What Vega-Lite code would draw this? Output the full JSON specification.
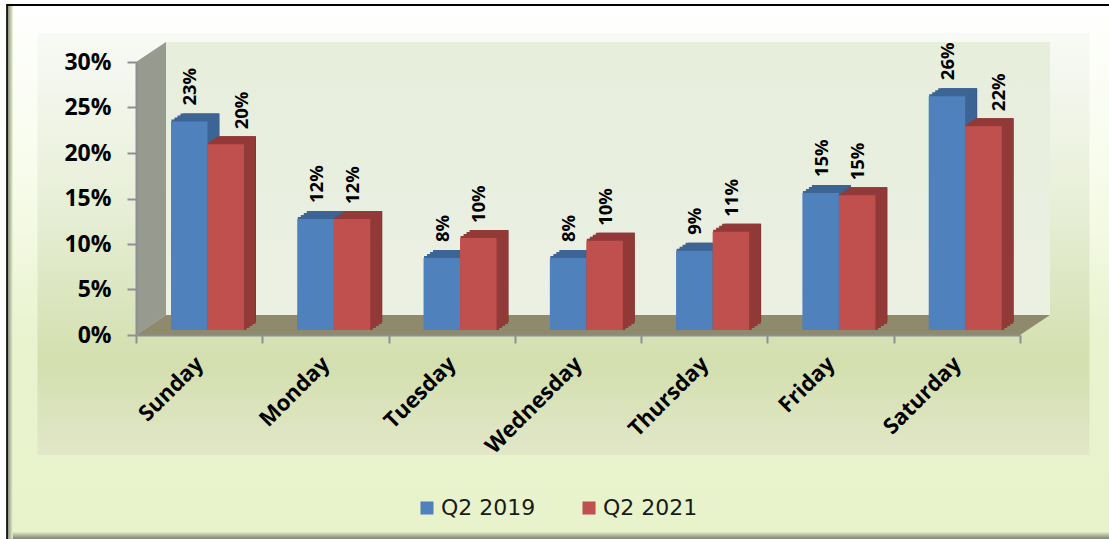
{"$schema":"https://vega.github.io/schema/vega-lite/v6.json","width":884,"height":273,"autosize":"none","padding":{"left":136,"top":62,"right":89,"bottom":204},"background":"white","config":{"view":{"stroke":null},"font":"Open Sans"},"datasets":{"bars":[{"day":"Sunday","series":"Q2 2019","share":0.229},{"day":"Sunday","series":"Q2 2021","share":0.204},{"day":"Monday","series":"Q2 2019","share":0.122},{"day":"Monday","series":"Q2 2021","share":0.122},{"day":"Tuesday","series":"Q2 2019","share":0.079},{"day":"Tuesday","series":"Q2 2021","share":0.101},{"day":"Wednesday","series":"Q2 2019","share":0.079},{"day":"Wednesday","series":"Q2 2021","share":0.098},{"day":"Thursday","series":"Q2 2019","share":0.087},{"day":"Thursday","series":"Q2 2021","share":0.108},{"day":"Friday","series":"Q2 2019","share":0.1505},{"day":"Friday","series":"Q2 2021","share":0.148},{"day":"Saturday","series":"Q2 2019","share":0.257},{"day":"Saturday","series":"Q2 2021","share":0.224}],"frame":[{"a":-1.02,"b":7.8,"lo":-0.24,"hi":0.3626}],"bevel":[{"a":-1.015,"b":-0.975,"lo":-0.24,"hi":0.3615}],"panel":[{"a":-0.78,"b":7.55,"lo":-0.132,"hi":0.3318}],"wall":[{"a":0.2375,"b":7.2375,"lo":0.022,"hi":0.322}],"side":[{"a":0,"lo":0,"hi":0.3},{"a":0.2375,"lo":0.022,"hi":0.322}],"floor":[{"a":0,"b":7,"lo":0},{"a":0.2375,"b":7.2375,"lo":0.022}]},"layer":[{"data":{"name":"frame"},"mark":{"type":"rect","clip":false,"stroke":"#000000","strokeWidth":2,"fill":{"gradient":"linear","x1":0,"y1":0,"x2":0,"y2":1,"stops":[{"offset":0,"color":"#ffffff"},{"offset":0.35,"color":"#f6fbe8"},{"offset":0.6,"color":"#e9f3cf"},{"offset":0.96,"color":"#e8f3cb"},{"offset":0.972,"color":"#8a8e7c"},{"offset":1,"color":"#8a8e7c"}]}},"encoding":{"x":{"field":"a","type":"quantitative","axis":null,"scale":{"domain":[0,7],"nice":false,"zero":false}},"x2":{"field":"b"},"y":{"field":"lo","type":"quantitative","scale":{"domain":[0,0.3],"nice":false},"axis":{"title":null,"zindex":1,"format":".0%","values":[0,0.05,0.1,0.15,0.2,0.25,0.3],"grid":false,"labelFont":"Open Sans","labelFontSize":23,"labelFontWeight":700,"labelColor":"#000000","labelPadding":16,"tickSize":9,"tickWidth":2,"tickColor":"#8e8e94","domainColor":"#8e8e94","domainWidth":2}},"y2":{"field":"hi"}}},{"data":{"name":"bevel"},"mark":{"type":"rect","clip":false,"fill":{"gradient":"linear","x1":0,"y1":0,"x2":1,"y2":0,"stops":[{"offset":0,"color":"#8c8f80","opacity":0.8},{"offset":1,"color":"#e9f3cf","opacity":0}]}},"encoding":{"x":{"field":"a","type":"quantitative","axis":null,"scale":{"domain":[0,7],"nice":false,"zero":false}},"x2":{"field":"b"},"y":{"field":"lo","type":"quantitative"},"y2":{"field":"hi"}}},{"data":{"name":"panel"},"mark":{"type":"rect","clip":false,"fill":{"gradient":"linear","x1":0,"y1":0,"x2":0,"y2":1,"stops":[{"offset":0,"color":"#f8faf5"},{"offset":0.4,"color":"#e8efd8"},{"offset":0.78,"color":"#d3dfae"},{"offset":1,"color":"#e2e7c9"}]}},"encoding":{"x":{"field":"a","type":"quantitative","axis":null,"scale":{"domain":[0,7],"nice":false,"zero":false}},"x2":{"field":"b"},"y":{"field":"lo","type":"quantitative"},"y2":{"field":"hi"}}},{"data":{"name":"wall"},"mark":{"type":"rect","clip":false,"fill":{"gradient":"linear","x1":0,"y1":0,"x2":0,"y2":1,"stops":[{"offset":0,"color":"#e7eedc"},{"offset":1,"color":"#ebf0e3"}]}},"encoding":{"x":{"field":"a","type":"quantitative","axis":null,"scale":{"domain":[0,7],"nice":false,"zero":false}},"x2":{"field":"b"},"y":{"field":"lo","type":"quantitative"},"y2":{"field":"hi"}}},{"data":{"name":"side"},"mark":{"type":"area","clip":false,"color":"#979a8f"},"encoding":{"x":{"field":"a","type":"quantitative","axis":null,"scale":{"domain":[0,7],"nice":false,"zero":false}},"y":{"field":"lo","type":"quantitative"},"y2":{"field":"hi"}}},{"data":{"name":"floor"},"mark":{"type":"area","clip":false,"orient":"horizontal","color":"#8f8a6c"},"encoding":{"x":{"field":"a","type":"quantitative","axis":null,"scale":{"domain":[0,7],"nice":false,"zero":false}},"x2":{"field":"b"},"y":{"field":"lo","type":"quantitative"}}},{"data":{"name":"bars"},"encoding":{"x":{"field":"day","type":"nominal","sort":null,"scale":{"domain":["Sunday","Monday","Tuesday","Wednesday","Thursday","Friday","Saturday"],"paddingInner":0,"paddingOuter":0},"axis":{"title":null,"zindex":1,"tickBand":"extent","labelAngle":-45,"labelAlign":"right","labelBaseline":"middle","labelFont":"Open Sans","labelFontSize":22,"labelFontWeight":700,"labelColor":"#000000","labelPadding":17,"tickSize":8,"tickWidth":2,"tickColor":"#8e8e94","domainColor":"#8e8e94","domainWidth":2,"labelOverlap":false}},"y":{"field":"share","type":"quantitative","stack":null},"y2":{"datum":0}},"resolve":{"scale":{"xOffset":"independent"}},"layer":[{"transform":[{"filter":"datum.series==='Q2 2019'"}],"mark":{"type":"bar","clip":false,"color":"#34537f","yOffset":-13,"y2Offset":-13},"encoding":{"xOffset":{"field":"series","type":"nominal","scale":{"domain":["Q2 2019","Q2 2021"],"range":[47,120]}}}},{"transform":[{"filter":"datum.series==='Q2 2019'"}],"mark":{"type":"bar","clip":false,"color":"#34537f","yOffset":-11,"y2Offset":-11},"encoding":{"xOffset":{"field":"series","type":"nominal","scale":{"domain":["Q2 2019","Q2 2021"],"range":[44,117]}}}},{"transform":[{"filter":"datum.series==='Q2 2019'"}],"mark":{"type":"bar","clip":false,"color":"#34537f","yOffset":-9,"y2Offset":-9},"encoding":{"xOffset":{"field":"series","type":"nominal","scale":{"domain":["Q2 2019","Q2 2021"],"range":[41,114]}}}},{"transform":[{"filter":"datum.series==='Q2 2019'"}],"mark":{"type":"bar","clip":false,"color":"#34537f","yOffset":-7,"y2Offset":-7},"encoding":{"xOffset":{"field":"series","type":"nominal","scale":{"domain":["Q2 2019","Q2 2021"],"range":[38,111]}}}},{"transform":[{"filter":"datum.series==='Q2 2019'"}],"mark":{"type":"bar","clip":false,"fill":"#3c6494","stroke":"#3c6494","strokeWidth":2,"yOffset":-12,"y2Offset":-12},"encoding":{"y2":{"field":"share"},"xOffset":{"field":"series","type":"nominal","scale":{"domain":["Q2 2019","Q2 2021"],"range":[45.5,118.5]}}}},{"transform":[{"filter":"datum.series==='Q2 2019'"}],"mark":{"type":"bar","clip":false,"fill":"#3c6494","stroke":"#3c6494","strokeWidth":2,"yOffset":-10,"y2Offset":-10},"encoding":{"y2":{"field":"share"},"xOffset":{"field":"series","type":"nominal","scale":{"domain":["Q2 2019","Q2 2021"],"range":[42.5,115.5]}}}},{"transform":[{"filter":"datum.series==='Q2 2019'"}],"mark":{"type":"bar","clip":false,"fill":"#3c6494","stroke":"#3c6494","strokeWidth":2,"yOffset":-8,"y2Offset":-8},"encoding":{"y2":{"field":"share"},"xOffset":{"field":"series","type":"nominal","scale":{"domain":["Q2 2019","Q2 2021"],"range":[39.5,112.5]}}}},{"transform":[{"filter":"datum.series==='Q2 2019'"}],"mark":{"type":"bar","clip":false,"fill":"#3c6494","stroke":"#3c6494","strokeWidth":2,"yOffset":-6,"y2Offset":-6},"encoding":{"y2":{"field":"share"},"xOffset":{"field":"series","type":"nominal","scale":{"domain":["Q2 2019","Q2 2021"],"range":[36.5,109.5]}}}},{"transform":[{"filter":"datum.series==='Q2 2021'"}],"mark":{"type":"bar","clip":false,"color":"#7a2e2e","yOffset":-13,"y2Offset":-13},"encoding":{"xOffset":{"field":"series","type":"nominal","scale":{"domain":["Q2 2019","Q2 2021"],"range":[47,120]}}}},{"transform":[{"filter":"datum.series==='Q2 2021'"}],"mark":{"type":"bar","clip":false,"color":"#7a2e2e","yOffset":-11,"y2Offset":-11},"encoding":{"xOffset":{"field":"series","type":"nominal","scale":{"domain":["Q2 2019","Q2 2021"],"range":[44,117]}}}},{"transform":[{"filter":"datum.series==='Q2 2021'"}],"mark":{"type":"bar","clip":false,"color":"#7a2e2e","yOffset":-9,"y2Offset":-9},"encoding":{"xOffset":{"field":"series","type":"nominal","scale":{"domain":["Q2 2019","Q2 2021"],"range":[41,114]}}}},{"transform":[{"filter":"datum.series==='Q2 2021'"}],"mark":{"type":"bar","clip":false,"color":"#7a2e2e","yOffset":-7,"y2Offset":-7},"encoding":{"xOffset":{"field":"series","type":"nominal","scale":{"domain":["Q2 2019","Q2 2021"],"range":[38,111]}}}},{"transform":[{"filter":"datum.series==='Q2 2021'"}],"mark":{"type":"bar","clip":false,"fill":"#923a38","stroke":"#923a38","strokeWidth":2,"yOffset":-12,"y2Offset":-12},"encoding":{"y2":{"field":"share"},"xOffset":{"field":"series","type":"nominal","scale":{"domain":["Q2 2019","Q2 2021"],"range":[45.5,118.5]}}}},{"transform":[{"filter":"datum.series==='Q2 2021'"}],"mark":{"type":"bar","clip":false,"fill":"#923a38","stroke":"#923a38","strokeWidth":2,"yOffset":-10,"y2Offset":-10},"encoding":{"y2":{"field":"share"},"xOffset":{"field":"series","type":"nominal","scale":{"domain":["Q2 2019","Q2 2021"],"range":[42.5,115.5]}}}},{"transform":[{"filter":"datum.series==='Q2 2021'"}],"mark":{"type":"bar","clip":false,"fill":"#923a38","stroke":"#923a38","strokeWidth":2,"yOffset":-8,"y2Offset":-8},"encoding":{"y2":{"field":"share"},"xOffset":{"field":"series","type":"nominal","scale":{"domain":["Q2 2019","Q2 2021"],"range":[39.5,112.5]}}}},{"transform":[{"filter":"datum.series==='Q2 2021'"}],"mark":{"type":"bar","clip":false,"fill":"#923a38","stroke":"#923a38","strokeWidth":2,"yOffset":-6,"y2Offset":-6},"encoding":{"y2":{"field":"share"},"xOffset":{"field":"series","type":"nominal","scale":{"domain":["Q2 2019","Q2 2021"],"range":[36.5,109.5]}}}},{"mark":{"type":"bar","clip":false,"yOffset":-5,"y2Offset":-5},"encoding":{"xOffset":{"field":"series","type":"nominal","scale":{"domain":["Q2 2019","Q2 2021"],"range":[35,108]}},"color":{"field":"series","type":"nominal","scale":{"domain":["Q2 2019","Q2 2021"],"range":["#4f81bd","#c0504d"]},"legend":{"title":null,"orient":"none","legendX":280,"legendY":435,"direction":"horizontal","symbolType":"square","symbolSize":170,"labelFont":"DejaVu Sans","labelFontSize":22,"labelOffset":3,"labelColor":"#1a1a1a","columnPadding":42,"symbolStrokeWidth":0}}}},{"transform":[{"filter":"datum.series==='Q2 2019'"}],"mark":{"type":"text","clip":false,"angle":270,"align":"left","baseline":"middle","font":"Open Sans","fontSize":18.5,"fontWeight":700,"color":"#000000","yOffset":-21},"encoding":{"y2":null,"text":{"field":"share","type":"quantitative","format":".0%"},"xOffset":{"field":"series","type":"nominal","scale":{"domain":["Q2 2019","Q2 2021"],"range":[36,109]}}}},{"transform":[{"filter":"datum.series==='Q2 2021' && datum.day!=='Sunday' && datum.day!=='Saturday'"}],"mark":{"type":"text","clip":false,"angle":270,"align":"left","baseline":"middle","font":"Open Sans","fontSize":18.5,"fontWeight":700,"color":"#000000","yOffset":-20},"encoding":{"y2":null,"text":{"field":"share","type":"quantitative","format":".0%"},"xOffset":{"field":"series","type":"nominal","scale":{"domain":["Q2 2019","Q2 2021"],"range":[36,109]}}}},{"transform":[{"filter":"datum.series==='Q2 2021' && (datum.day==='Sunday' || datum.day==='Saturday')"}],"mark":{"type":"text","clip":false,"angle":270,"align":"left","baseline":"middle","font":"Open Sans","fontSize":18.5,"fontWeight":700,"color":"#000000","yOffset":-20},"encoding":{"y2":null,"text":{"field":"share","type":"quantitative","format":".0%"},"xOffset":{"field":"series","type":"nominal","scale":{"domain":["Q2 2019","Q2 2021"],"range":[51,124]}}}}]}],"resolve":{"scale":{"x":"independent","xOffset":"independent"}}}
